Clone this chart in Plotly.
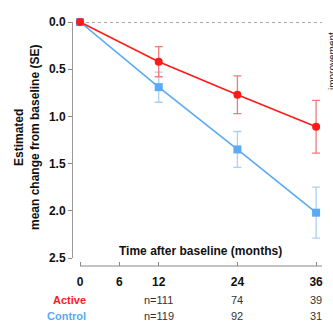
import plotly.graph_objects as go

months = [0, 12, 24, 36]
active_mean = [0.0, 0.42, 0.77, 1.11]
active_se = [0.0, 0.16, 0.20, 0.28]
control_mean = [0.0, 0.69, 1.35, 2.02]
control_se = [0.0, 0.16, 0.19, 0.27]
x_ticks = [0, 6, 12, 24, 36]
y_ticks = [0.0, 0.5, 1.0, 1.5, 2.0, 2.5]
n_months = [12, 24, 36]
active_n = ["n=111", "74", "39"]
control_n = ["n=119", "92", "31"]

RED = "#ff1a1a"
RED_ERR = "#f27a7a"
BLUE = "#5aaaf5"
BLUE_ERR = "#a9d1f7"
FONT = "Liberation Sans, Arial, sans-serif"

# layout geometry in pixels
W, H = 333, 325
L, R, T, B = 73, 11, 22, 59
PW = W - L - R
PH = H - T - B


def px(x):
    return (x - L) / PW


def py(y):
    return (H - B - y) / PH


fig = go.Figure()
fig.add_trace(go.Scatter(
    x=months, y=control_mean, mode="lines+markers",
    line=dict(color=BLUE, width=1.6),
    marker=dict(symbol="square", size=8, color=BLUE),
    error_y=dict(type="data", array=control_se, color=BLUE_ERR, thickness=1.3, width=4),
    cliponaxis=False, showlegend=False))
fig.add_trace(go.Scatter(
    x=months, y=active_mean, mode="lines+markers",
    line=dict(color=RED, width=1.6),
    marker=dict(symbol="circle", size=8, color=RED),
    error_y=dict(type="data", array=active_se, color=RED_ERR, thickness=1.3, width=4),
    cliponaxis=False, showlegend=False))

fig.update_xaxes(range=[-1.07, 36.9], tickvals=x_ticks,
                 ticktext=[f"<b>{v}</b>" for v in x_ticks],
                 anchor="free", position=0,
                 ticks="inside", ticklen=4, tickcolor="#888", tickwidth=1,
                 ticklabelstandoff=7,
                 showline=False, showgrid=False, zeroline=False,
                 tickfont=dict(family=FONT, size=12, color="#111"))
fig.update_yaxes(range=[2.5, 0], domain=[py(258), 1], tickvals=y_ticks,
                 ticktext=[f"<b>{v:.1f}</b>" for v in y_ticks],
                 ticks="outside", ticklen=4, tickcolor="#888", tickwidth=1,
                 showline=True, linecolor="#999", linewidth=1,
                 showgrid=False, zeroline=False,
                 tickfont=dict(family=FONT, size=12, color="#111"))

shapes = [
    dict(type="line", xref="x", yref="y", x0=0, x1=36.9, y0=0, y1=0,
         line=dict(color="#555", width=1, dash="dot"), layer="below"),
    dict(type="line", xref="x", yref="paper", x0=0, x1=36.9, y0=0, y1=0,
         line=dict(color="#888", width=1)),
]

annotations = [
    dict(text="<b>Estimated<br>mean change from baseline (SE)</b>", textangle=-90,
         xref="paper", yref="paper", x=px(27), y=py(138), xanchor="center", yanchor="middle",
         showarrow=False, font=dict(family=FONT, size=12, color="#111")),
    dict(text="<b>Time after baseline (months)</b>", xref="paper", yref="paper",
         x=px(200), y=py(251), xanchor="center", yanchor="middle",
         showarrow=False, font=dict(family=FONT, size=12, color="#111")),
    dict(text="improvement", textangle=-90, xref="paper", yref="paper",
         x=px(332), y=py(61), xanchor="center", yanchor="middle",
         showarrow=False, font=dict(family=FONT, size=10, color="#222")),
    dict(text="<b>Active</b>", xref="paper", yref="paper", x=px(88), y=py(300),
         xanchor="right", yanchor="middle", showarrow=False,
         font=dict(family=FONT, size=11, color=RED)),
    dict(text="<b>Control</b>", xref="paper", yref="paper", x=px(88), y=py(316),
         xanchor="right", yanchor="middle", showarrow=False,
         font=dict(family=FONT, size=11, color=BLUE)),
]
for m, a, c in zip(n_months, active_n, control_n):
    annotations.append(dict(text=a, xref="x", yref="paper", x=m, y=py(300),
                            xanchor="center", yanchor="middle", showarrow=False,
                            font=dict(family=FONT, size=11, color="#333")))
    annotations.append(dict(text=c, xref="x", yref="paper", x=m, y=py(316),
                            xanchor="center", yanchor="middle", showarrow=False,
                            font=dict(family=FONT, size=11, color="#333")))

fig.update_layout(width=W, height=H, margin=dict(l=L, r=R, t=T, b=B),
                  paper_bgcolor="white", plot_bgcolor="white",
                  shapes=shapes, annotations=annotations)

fig.write_html("out.html")
